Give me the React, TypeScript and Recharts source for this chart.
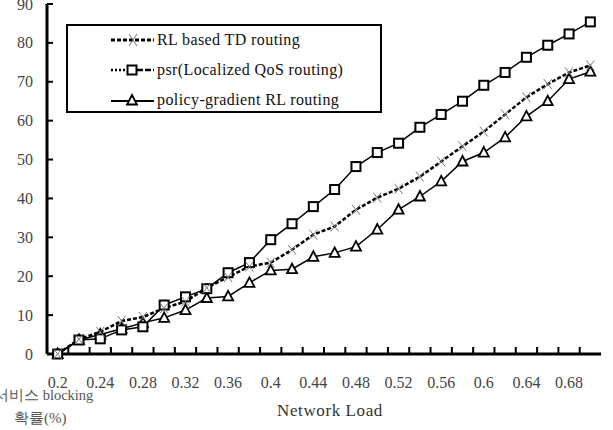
import React from 'react';
import { LineChart, Line, XAxis, YAxis, Legend } from 'recharts';

const loads = [0.2, 0.22, 0.24, 0.26, 0.28, 0.3, 0.32, 0.34, 0.36, 0.38, 0.4, 0.42, 0.44, 0.46, 0.48, 0.5, 0.52, 0.54, 0.56, 0.58, 0.6, 0.62, 0.64, 0.66, 0.68, 0.7];
const rlTd = [0, 3.8, 5.7, 8.5, 9.5, 11.8, 13.5, 17, 19.8, 22.5, 23.5, 26.8, 30.7, 32.8, 37.1, 40.2, 42.5, 45.6, 49.5, 53.4, 57.2, 61.6, 66, 69.4, 72.4, 74.2];
const psr = [0, 3.6, 3.9, 6.2, 7, 12.6, 14.7, 16.8, 20.9, 23.5, 29.4, 33.5, 37.9, 42.3, 48.2, 51.8, 54.2, 58.3, 61.6, 65, 69.1, 72.4, 76.3, 79.4, 82.3, 85.4];
const policy = [0, 3.6, 5, 6.5, 8, 9.3, 11.3, 14.4, 14.8, 18.3, 21.5, 21.8, 25, 26, 27.6, 32, 37.1, 40.5, 44.4, 49.5, 51.8, 55.7, 61.1, 65, 70.7, 72.6];

const seriesNames = ['RL based TD routing', 'psr(Localized QoS routing)', 'policy-gradient RL routing'];
const xTickValues = [0.2, 0.21, 0.22, 0.23, 0.24, 0.25, 0.26, 0.27, 0.28, 0.29, 0.3, 0.31, 0.32, 0.33, 0.34, 0.35, 0.36, 0.37, 0.38, 0.39, 0.4, 0.41, 0.42, 0.43, 0.44, 0.45, 0.46, 0.47, 0.48, 0.49, 0.5, 0.51, 0.52, 0.53, 0.54, 0.55, 0.56, 0.57, 0.58, 0.59, 0.6, 0.61, 0.62, 0.63, 0.64, 0.65, 0.66, 0.67, 0.68, 0.69, 0.7];
const xTickLabels = ['0.2', '0.24', '0.28', '0.32', '0.36', '0.4', '0.44', '0.48', '0.52', '0.56', '0.6', '0.64', '0.68'];
const yTicks = [0, 10, 20, 30, 40, 50, 60, 70, 80, 90];
const xTitle = 'Network Load';
const yTitle1 = '서비스 blocking';
const yTitle2 = '확률(%)';

const data = loads.map((l, i) => ({ load: l, rl: rlTd[i], psr: psr[i], pg: policy[i] }));

const FONT = "'Liberation Serif', serif";

function XTick(props: any) {
  const { x, y, index } = props;
  const isMark = index % 2 === 1;
  const isLabel = index % 4 === 0;
  return (
    <g>
      {isMark ? <rect x={x - 1} y={y - 7} width={2} height={7} fill="#000" /> : null}
      {isLabel ? (
        <text x={x} y={y + 34} textAnchor="middle" fontFamily={FONT} fontSize={16} fill="#444">
          {xTickLabels[index / 4]}
        </text>
      ) : null}
    </g>
  );
}

function YTick(props: any) {
  const { x, y, payload } = props;
  return (
    <g>
      <rect x={x + 14} y={y - 1} width={6} height={2} fill="#000" />
      <text x={x} y={y} dy="0.35em" textAnchor="end" fontFamily={FONT} fontSize={16} fill="#444">
        {payload.value}
      </text>
    </g>
  );
}

const CrossDot = (props: any) => {
  const { cx, cy, index } = props;
  if (cx == null || cy == null) return <g key={index} />;
  return (
    <g key={`c${index}`}>
      <line x1={cx - 4} y1={cy - 5} x2={cx + 4} y2={cy + 5} stroke="#777" strokeWidth={1} />
      <line x1={cx + 4} y1={cy - 5} x2={cx - 4} y2={cy + 5} stroke="#777" strokeWidth={1} />
    </g>
  );
};

const SquareDot = (props: any) => {
  const { cx, cy, index } = props;
  if (cx == null || cy == null) return <g key={index} />;
  return <rect key={`s${index}`} x={cx - 4.5} y={cy - 4.5} width={9} height={9} fill="#fff" stroke="#000" strokeWidth={2} />;
};

const TriDot = (props: any) => {
  const { cx, cy, index } = props;
  if (cx == null || cy == null) return <g key={index} />;
  return (
    <polygon
      key={`t${index}`}
      points={`${cx},${cy - 5.5} ${cx + 5},${cy + 4} ${cx - 5},${cy + 4}`}
      fill="#fff"
      stroke="#000"
      strokeWidth={1.8}
    />
  );
};

const LegendBox = () => (
  <div
    style={{
      width: 316,
      height: 89,
      border: '2.5px solid #000',
      boxSizing: 'border-box',
      background: '#fff',
      position: 'relative',
      fontFamily: FONT,
      fontSize: 16,
      letterSpacing: 0.4,
      color: '#111',
    }}
  >
    {seriesNames.map((name, i) => (
      <div
        key={name}
        style={{ position: 'absolute', left: 42, top: 4 + 30 * i, height: 20, display: 'flex', alignItems: 'center', whiteSpace: 'nowrap' }}
      >
        <svg width={46} height={20} style={{ display: 'block' }}>
          {i === 0 && (
            <g>
              <line x1={1} x2={44} y1={10} y2={10} stroke="#000" strokeWidth={3} strokeDasharray="4 2" />
              <line x1={19} y1={4} x2={27} y2={16} stroke="#777" strokeWidth={1} />
              <line x1={27} y1={4} x2={19} y2={16} stroke="#777" strokeWidth={1} />
            </g>
          )}
          {i === 1 && (
            <g>
              <line x1={1} x2={17} y1={10} y2={10} stroke="#000" strokeWidth={2.5} strokeDasharray="2 2" />
              <line x1={27} x2={44} y1={10} y2={10} stroke="#000" strokeWidth={2.5} strokeDasharray="6 2" />
              <rect x={17.5} y={5.5} width={9} height={9} fill="#fff" stroke="#000" strokeWidth={2} />
            </g>
          )}
          {i === 2 && (
            <g>
              <line x1={1} x2={44} y1={11} y2={11} stroke="#000" strokeWidth={2} />
              <polygon points="22,5 27,14.5 17,14.5" fill="#fff" stroke="#000" strokeWidth={1.8} />
            </g>
          )}
        </svg>
        <span style={{ marginLeft: 1 }}>{name}</span>
      </div>
    ))}
  </div>
);

export default function App() {
  return (
    <div style={{ position: 'absolute', left: 0, top: 0, width: 613, height: 430, background: '#fff' }}>
      <LineChart width={613} height={430} data={data} margin={{ top: 4, right: 12, bottom: 0, left: 0 }}>
        <XAxis
          dataKey="load"
          type="number"
          domain={[0.19, 0.71]}
          ticks={xTickValues}
          interval={0}
          height={76}
          tickSize={0}
          tickMargin={0}
          tick={XTick}
          tickLine={false}
          axisLine={{ stroke: '#000', strokeWidth: 3 }}
          allowDataOverflow
        />
        <XAxis xAxisId="top" orientation="top" dataKey="load" type="number" domain={[0.19, 0.71]} height={0} tick={false} tickLine={false} axisLine={{ stroke: '#222', strokeWidth: 2 }} />
        <YAxis
          type="number"
          domain={[0, 90]}
          ticks={yTicks}
          interval={0}
          width={47}
          tickSize={0}
          tickMargin={14}
          tick={YTick}
          tickLine={false}
          axisLine={{ stroke: '#000', strokeWidth: 3 }}
        />
        <YAxis yAxisId="right" orientation="right" domain={[0, 90]} width={0} tick={false} tickLine={false} axisLine={{ stroke: '#222', strokeWidth: 2 }} />
        <Legend
          layout="vertical"
          align="center"
          verticalAlign="middle"
          content={<LegendBox />}
          wrapperStyle={{ position: 'absolute', left: 66, top: 24, width: 316, height: 89 }}
        />
        <Line dataKey="pg" name={seriesNames[2]} stroke="#000" strokeWidth={1.5} dot={<TriDot />} activeDot={false} isAnimationActive={false} />
        <Line dataKey="psr" name={seriesNames[1]} stroke="#000" strokeWidth={1.5} dot={<SquareDot />} activeDot={false} isAnimationActive={false} />
        <Line dataKey="rl" name={seriesNames[0]} stroke="#000" strokeWidth={2.5} strokeDasharray="4 2" dot={<CrossDot />} activeDot={false} isAnimationActive={false} />
      </LineChart>
      <div style={{ position: 'absolute', left: 0, top: 401, width: 613, textAlign: 'center', fontFamily: FONT, fontSize: 17, letterSpacing: 0.6, color: '#333', paddingLeft: 47, boxSizing: 'border-box' }}>
        {xTitle}
      </div>
      <div style={{ position: 'absolute', left: -6, top: 386, fontFamily: FONT, fontSize: 14.5, color: '#555', whiteSpace: 'nowrap' }}>{yTitle1}</div>
      <div style={{ position: 'absolute', left: 14, top: 409, fontFamily: FONT, fontSize: 15, color: '#555', whiteSpace: 'nowrap' }}>{yTitle2}</div>
    </div>
  );
}
